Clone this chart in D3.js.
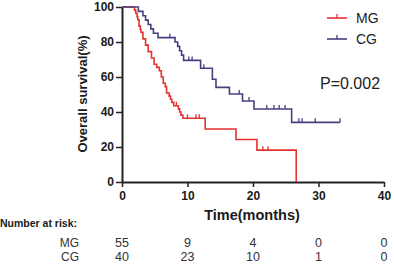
<!DOCTYPE html>
<html>
<head>
<meta charset="utf-8">
<script src="https://cdn.jsdelivr.net/npm/d3@7"></script>
<style>
  body { margin: 0; background: #fff; }
  svg { font-family: "Liberation Sans", Arial, sans-serif; }
</style>
</head>
<body>
<div id="chart"></div>
<script>
// KM steps: [time, survival after event]
var mgSteps = [[0,100],[1.9,98.2],[2.1,96.4],[2.3,94.5],[2.4,92.7],[2.6,89.1],[2.8,87.3],[2.9,85.5],
  [3.2,81.8],[3.6,78.2],[4.0,74.5],[4.5,70.9],[4.9,67.3],[5.3,65.5],[5.7,63.6],[6.0,60.0],
  [6.3,56.4],[6.6,54.5],[6.8,50.9],[7.2,49.1],[7.4,47.3],[7.6,45.5],[7.9,43.6],[8.6,41.8],
  [8.8,40.0],[9.0,38.2],[9.3,36.4],[12.7,30.3],[17.4,24.3],[20.6,18.2],[26.6,0]];
var mgCensor = [[8.3,43.6],[10.0,36.4],[11.3,36.4],[11.8,36.4],[21.5,18.2],[22.3,18.2]];

var cgSteps = [[0,100],[2.5,97.5],[3.2,95.0],[3.6,92.5],[4.0,90.0],[4.4,87.5],[4.8,85.0],[5.5,82.5],
  [8.1,80.0],[8.5,77.5],[8.8,75.0],[9.1,72.5],[9.4,69.5],[12.0,65.0],[13.8,58.7],[14.35,54.1],
  [16.4,50.3],[18.4,46.3],[20.15,41.7],[25.9,34.1],[33.3,34.1]];
var cgCensor = [[7.3,82.5],[10.2,69.5],[10.7,69.5],[12.5,65.0],[17.9,50.3],[19.4,46.3],
  [22.1,41.7],[23.2,41.7],[24.0,41.7],[24.9,41.7],[27.0,34.1],[27.5,34.1],[29.5,34.1],[33.3,34.1]];

var xTicks = [0,10,20,30,40];
var yTicks = [0,20,40,60,80,100];
var groups = ["MG","CG"];
var colors = ["#e5322c","#43417f"];
var riskMG = [55,9,4,0,0];
var riskCG = [40,23,10,1,0];
var pText = "P=0.002";

var width = 394, height = 264;
var svg = d3.select("#chart").append("svg")
  .attr("width", width)
  .attr("height", height);

var x = d3.scaleLinear().domain([0,40]).range([122,384]);
var y = d3.scaleLinear().domain([0,100]).range([182,7]);

var line = d3.line()
  .x(d => x(d[0]))
  .y(d => y(d[1]))
  .curve(d3.curveStepAfter);

// axes
var xAxis = svg.append("g")
  .attr("transform", "translate(0," + y(0) + ")")
  .call(d3.axisBottom(x).tickValues(xTicks).tickSize(5).tickSizeOuter(0).tickPadding(4));
var yAxis = svg.append("g")
  .attr("transform", "translate(" + x(0) + ",0)")
  .call(d3.axisLeft(y).tickValues(yTicks).tickSize(6).tickSizeOuter(0).tickPadding(2));

[xAxis, yAxis].forEach(a => {
  a.select(".domain").attr("stroke", "#222").attr("stroke-width", 2);
  a.selectAll(".tick line").attr("stroke", "#222").attr("stroke-width", 1.5);
  a.selectAll(".tick text")
    .attr("fill", "#1a1a1a")
    .style("font-size", "12px")
    .style("font-weight", "bold");
});

// curves
var series = [
  {steps: mgSteps, censor: mgCensor, color: colors[0]},
  {steps: cgSteps, censor: cgCensor, color: colors[1]}
];

series.forEach(s => {
  svg.append("path")
    .datum(s.steps)
    .attr("d", line)
    .attr("fill", "none")
    .attr("stroke", s.color)
    .attr("stroke-width", 1.6);

  svg.selectAll(null)
    .data(s.censor)
    .enter().append("line")
    .attr("x1", d => x(d[0]))
    .attr("x2", d => x(d[0]))
    .attr("y1", d => y(d[1]))
    .attr("y2", d => y(d[1]) - 4)
    .attr("stroke", s.color)
    .attr("stroke-width", 1.3);
});

// axis titles
svg.append("text")
  .attr("x", 252)
  .attr("y", 220)
  .attr("text-anchor", "middle")
  .style("font-size", "14.5px")
  .style("font-weight", "bold")
  .attr("fill", "#1a1a1a")
  .text("Time(months)");

svg.append("text")
  .attr("transform", "translate(87,94) rotate(-90)")
  .attr("text-anchor", "middle")
  .style("font-size", "13px")
  .style("font-weight", "bold")
  .attr("fill", "#1a1a1a")
  .text("Overall survival(%)");

// legend
var legend = svg.selectAll(".legend")
  .data(groups)
  .enter().append("g")
  .attr("class", "legend")
  .attr("transform", (d,i) => "translate(327," + (18 + i * 21) + ")");

legend.append("line")
  .attr("x1", 0).attr("x2", 20)
  .attr("y1", 0).attr("y2", 0)
  .attr("stroke", (d,i) => colors[i])
  .attr("stroke-width", 1.6);
legend.append("line")
  .attr("x1", 10).attr("x2", 10)
  .attr("y1", 0).attr("y2", -4)
  .attr("stroke", (d,i) => colors[i])
  .attr("stroke-width", 1.3);
legend.append("text")
  .attr("x", 29)
  .attr("y", 5)
  .style("font-size", "14px")
  .attr("fill", "#222")
  .text(d => d);

svg.append("text")
  .attr("x", 320)
  .attr("y", 89)
  .style("font-size", "16px")
  .attr("fill", "#222")
  .text(pText);

// number at risk
svg.append("text")
  .attr("x", 0)
  .attr("y", 227)
  .style("font-size", "10.5px")
  .style("font-weight", "bold")
  .attr("fill", "#1a1a1a")
  .text("Number at risk:");

var riskRows = [riskMG, riskCG];
riskRows.forEach((row, r) => {
  var yy = 247 + r * 14;
  svg.append("text")
    .attr("x", 79)
    .attr("y", yy)
    .attr("text-anchor", "end")
    .style("font-size", "12px")
    .attr("fill", "#333")
    .text(groups[r]);
  svg.selectAll(null)
    .data(row)
    .enter().append("text")
    .attr("x", (d,i) => x(xTicks[i]))
    .attr("y", yy)
    .attr("text-anchor", "middle")
    .style("font-size", "12.5px")
    .attr("fill", "#333")
    .text(d => d);
});
</script>
</body>
</html>
